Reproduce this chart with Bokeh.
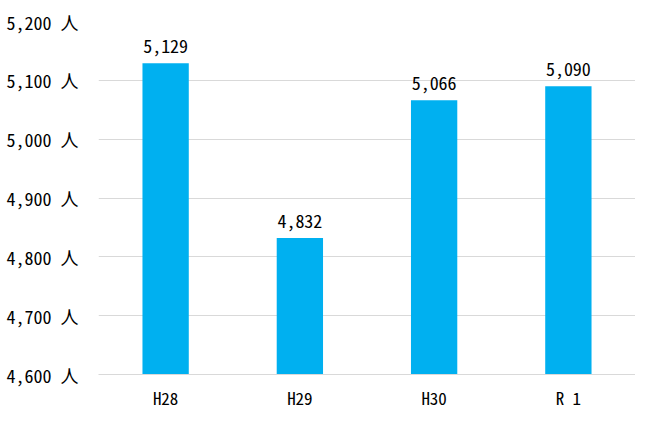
from bokeh.plotting import figure
from bokeh.models import ColumnDataSource, FixedTicker, Range1d
from bokeh.core.properties import value
from bokeh.embed import file_html
from bokeh.resources import INLINE

categories = ["H28", "H29", "H30", "R 1"]
values = [5129, 4832, 5066, 5090]
y_ticks = [4600, 4700, 4800, 4900, 5000, 5100, 5200]
y_tick_labels = [f"{t:,} 人" for t in y_ticks]
value_labels = [f"{v:,}" for v in values]

FONT = "'Noto Sans Mono CJK JP', 'DejaVu Sans Mono', 'Noto Sans CJK JP'"

src = ColumnDataSource(dict(cat=categories, val=values, lab=value_labels))

p = figure(x_range=categories, y_range=Range1d(4600, 5200),
           width=635, height=412, output_backend="svg", toolbar_location=None,
           min_border_left=98, min_border_right=0, min_border_top=21, min_border_bottom=10)

p.vbar(x="cat", top="val", bottom=4600, width=0.345, source=src,
       fill_color="#00B0F0", line_color=None)

p.text(x="cat", y="val", text="lab", source=src, text_align="center",
       text_baseline="bottom", y_offset=-10, text_font=value(FONT),
       text_font_size="18px", text_color="#000000")

p.yaxis.ticker = FixedTicker(ticks=y_ticks)
p.yaxis.major_label_overrides = {t: l for t, l in zip(y_ticks, y_tick_labels)}
p.yaxis.axis_line_color = None
p.yaxis.major_tick_line_color = None
p.yaxis.minor_tick_line_color = None
p.yaxis.major_label_standoff = 14
p.yaxis.major_label_text_font = FONT
p.yaxis.major_label_text_font_size = "18px"
p.yaxis.major_label_text_color = "#000000"

p.xaxis.axis_line_color = "#d9d9d9"
p.xaxis.axis_line_width = 1
p.xaxis.major_tick_line_color = None
p.xaxis.minor_tick_line_color = None
p.xaxis.major_label_standoff = 4
p.xaxis.major_label_text_font = FONT
p.xaxis.major_label_text_font_size = "17px"
p.xaxis.major_label_text_color = "#000000"

p.xgrid.grid_line_color = None
p.ygrid.grid_line_color = "#d9d9d9"
p.ygrid.grid_line_width = 1
p.outline_line_color = None
p.background_fill_color = "white"
p.border_fill_color = "white"

open("out.html", "w").write(file_html(p, INLINE))
